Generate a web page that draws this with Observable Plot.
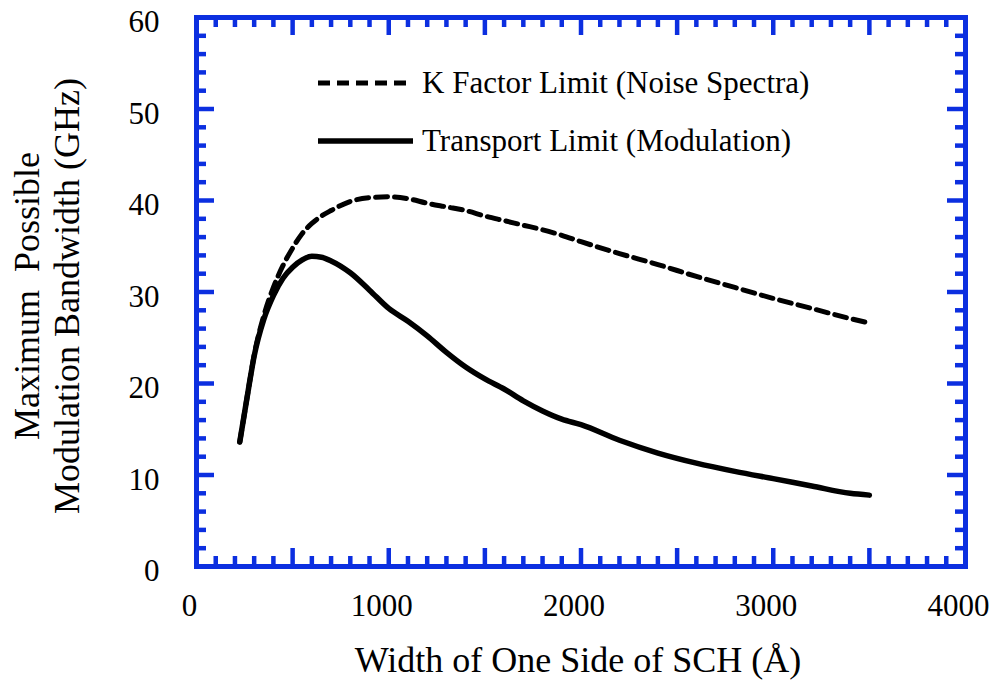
<!DOCTYPE html>
<html>
<head>
<meta charset="utf-8">
<script src="https://cdn.jsdelivr.net/npm/d3@7"></script>
<script src="https://cdn.jsdelivr.net/npm/@observablehq/plot@0.6"></script>
<style>
  body { margin: 0; background: #fff; }
  svg { display: block; }
</style>
</head>
<body>
<div id="chart"></div>
<script>
// Width of one side of the SCH (Å)
const schWidth = [225, 250, 275, 300, 350, 400, 450, 500, 550, 600, 650, 700, 800, 900, 1000, 1100, 1200, 1300, 1400, 1500, 1600, 1700, 1800, 1900, 2000, 2200, 2400, 2600, 2800, 3000, 3200, 3400, 3500];
// K factor limit from noise spectra (GHz)
const kFactorGHz = [13.6, 16.8, 20.0, 23.1, 27.4, 30.5, 32.9, 34.8, 36.4, 37.5, 38.3, 38.9, 39.9, 40.3, 40.4, 40.2, 39.7, 39.3, 38.9, 38.3, 37.8, 37.3, 36.8, 36.2, 35.5, 34.2, 33.0, 31.7, 30.5, 29.3, 28.2, 27.1, 26.6];
// Transport limit from modulation response (GHz)
const transportGHz = [13.6, 16.8, 20.0, 23.0, 27.0, 29.6, 31.5, 32.7, 33.5, 33.9, 33.8, 33.4, 32.1, 30.2, 28.2, 26.8, 25.2, 23.4, 21.8, 20.5, 19.4, 18.1, 17.0, 16.1, 15.5, 13.8, 12.4, 11.3, 10.4, 9.6, 8.8, 8.0, 7.8];

const seriesNames = ["K Factor Limit (Noise Spectra)", "Transport Limit (Modulation)"];
const xTickLabels = [0, 1000, 2000, 3000, 4000];
const yTickLabels = [0, 10, 20, 30, 40, 50, 60];
const xTitle = "Width of One Side of SCH (Å)";
const yTitleLines = ["Maximum  Possible", "Modulation Bandwidth (GHz)"];

const rows = schWidth.map((w, i) => ({w, k: kFactorGHz[i], t: transportGHz[i]}));

const W = 995, H = 681;
const mL = 196, mR = 30, mT = 17, mB = 115;
const innerW = W - mL - mR, innerH = H - mT - mB;
const blue = "#0c2fe0";
const serif = "'Liberation Serif', 'Times New Roman', Times, serif";

// tick positions along the frame
const majorX = d3.range(0, 4001, 500);
const minorX = d3.range(0, 4001, 100).filter(v => v % 500);
const majorY = d3.range(0, 61, 10);
const minorY = d3.range(0, 61, 2).filter(v => v % 10);
const majorLen = 18, minorLen = 10;
const tickW = 4.5;

const tickMarks = [
  // bottom & top
  Plot.ruleX(majorX, {x: d => d, stroke: blue, strokeWidth: tickW, insetTop: innerH - majorLen}),
  Plot.ruleX(minorX, {x: d => d, stroke: blue, strokeWidth: tickW, insetTop: innerH - minorLen}),
  Plot.ruleX(majorX, {x: d => d, stroke: blue, strokeWidth: tickW, insetBottom: innerH - majorLen}),
  Plot.ruleX(minorX, {x: d => d, stroke: blue, strokeWidth: tickW, insetBottom: innerH - minorLen}),
  // left & right
  Plot.ruleY(majorY, {y: d => d, stroke: blue, strokeWidth: tickW, insetRight: innerW - majorLen}),
  Plot.ruleY(minorY, {y: d => d, stroke: blue, strokeWidth: tickW, insetRight: innerW - minorLen}),
  Plot.ruleY(majorY, {y: d => d, stroke: blue, strokeWidth: tickW, insetLeft: innerW - majorLen}),
  Plot.ruleY(minorY, {y: d => d, stroke: blue, strokeWidth: tickW, insetLeft: innerW - minorLen})
];

const chart = Plot.plot({
  width: W,
  height: H,
  marginLeft: mL,
  marginRight: mR,
  marginTop: mT,
  marginBottom: mB,
  style: {fontFamily: serif, fontSize: "31px", color: "#000", background: "#fff", overflow: "visible"},
  x: {domain: [0, 4000]},
  y: {domain: [0, 60]},
  marks: [
    Plot.line(rows, {x: "w", y: "k", stroke: "#000", strokeWidth: 5, strokeDasharray: "12,7", curve: "monotone-x"}),
    Plot.line(rows, {x: "w", y: "t", stroke: "#000", strokeWidth: 5.5, curve: "monotone-x"}),
    ...tickMarks,
    Plot.frame({stroke: blue, strokeWidth: 5}),
    Plot.axisX(xTickLabels, {tickSize: 0, tickPadding: 27, dx: -7, label: null, fill: "#000", fontSize: 31, tickFormat: d => String(d)}),
    Plot.axisY(yTickLabels, {tickSize: 0, tickPadding: 37, dy: 5, label: null, fill: "#000", fontSize: 31, tickFormat: d => String(d)})
  ]
});

document.getElementById("chart").appendChild(chart);

// titles and legend
const svg = d3.select(chart);

svg.append("text")
  .attr("x", 578).attr("y", 672)
  .attr("text-anchor", "middle")
  .style("font-family", serif).style("font-size", "36px").attr("fill", "#000")
  .text(xTitle);

const yt = svg.append("g").attr("transform", "translate(0,296) rotate(-90)");
yTitleLines.forEach((line, i) => {
  yt.append("text")
    .attr("x", 0).attr("y", 39 + i * 40)
    .attr("text-anchor", "middle")
    .style("font-family", serif).style("font-size", "36px").style("white-space", "pre")
    .attr("fill", "#000")
    .text(line);
});

const legend = svg.append("g");
const legendRows = [
  {name: seriesNames[0], y: 83, x2: 407, dash: "12,7", w: 5},
  {name: seriesNames[1], y: 141, x2: 413, dash: null, w: 5.5}
];
legendRows.forEach(r => {
  legend.append("line")
    .attr("x1", 318).attr("x2", r.x2).attr("y1", r.y).attr("y2", r.y)
    .attr("stroke", "#000").attr("stroke-width", r.w)
    .attr("stroke-dasharray", r.dash);
  legend.append("text")
    .attr("x", 422).attr("y", r.y + 10)
    .attr("text-anchor", "start")
    .style("font-family", serif).style("font-size", "31px").attr("fill", "#000")
    .text(r.name);
});
</script>
</body>
</html>
